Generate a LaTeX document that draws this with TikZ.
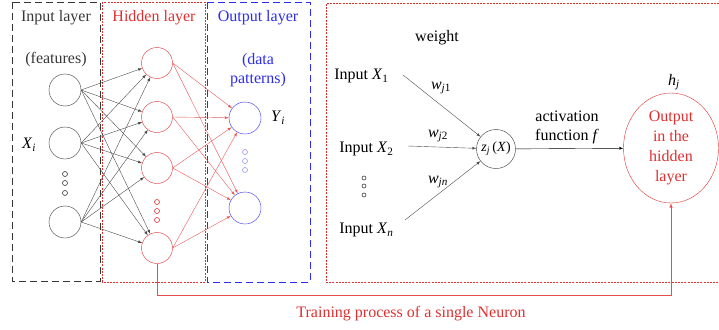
\documentclass[tikz,border=0pt]{standalone}
\usepackage{fontspec}
\setmainfont{Liberation Serif}
\usetikzlibrary{shapes.geometric}

\definecolor{netred}{RGB}{222,48,48}
\definecolor{netblue}{RGB}{45,45,235}
\definecolor{netgray}{RGB}{55,55,55}
\newcommand{\xsub}[2]{\textit{#1}\textsubscript{#2}}

\begin{document}
\begin{tikzpicture}[
  x = 1pt, y = -1pt,
  font = \fontsize{16}{19}\selectfont,
  in node/.style = {draw = netgray, circle, minimum size = 32pt, inner sep = 0pt},
  hid node/.style = {draw = netred, circle, minimum size = 31pt, inner sep = 0pt},
  out node/.style = {draw = netblue, circle, minimum size = 32pt, inner sep = 0pt},
  small dot/.style = {draw, circle, minimum size = 5pt, inner sep = 0pt, line width = 0.6pt},
  in edge/.style = {draw = black!70, line width = 0.4pt, -latex},
  hid edge/.style = {draw = netred!80, line width = 0.4pt, -latex},
  ]
  \useasboundingbox (0,0) rectangle (719,329);

  % layer boxes
  \draw[netgray, line width = 0.8pt, dash pattern = on 7pt off 4pt] (12,2) rectangle (100,281);
  \draw[netred, line width = 0.8pt, dash pattern = on 2pt off 1.2pt] (102,2) rectangle (205,282);
  \draw[netblue, line width = 0.8pt, dash pattern = on 7pt off 4pt] (207,2) rectangle (310,282);
  \draw[netred, line width = 0.8pt, dash pattern = on 2pt off 1.2pt]
    (719,3) -- (326,3) -- (326,282) -- (719,282);

  \node[netgray] (inlabel) at (56,18) {Input layer};
  \node[netred] (hidlabel) at (154,18) {Hidden layer};
  \node[netblue] (outlabel) at (258,18) {Output layer};
  \node[netgray] (features) at (56,60) {(features)};
  \node[netblue, align = center] (patterns) at (258,70) {(data\\patterns)};

  % input layer
  \node[in node] (in1) at (65,90) {};
  \node[in node] (in2) at (65,143) {};
  \node[in node] (in3) at (65,222) {};
  \node (xi) at (29,145) {\xsub{X}{\textit{i}}};
  \node[small dot, netgray] (indot1) at (65,174) {};
  \node[small dot, netgray] (indot2) at (65,183) {};
  \node[small dot, netgray] (indot3) at (65,193) {};

  % hidden layer
  \node[hid node] (hid1) at (157,63) {};
  \node[hid node] (hid2) at (157,117) {};
  \node[hid node] (hid3) at (157,168) {};
  \node[hid node] (hid4) at (157,248) {};
  \node[small dot, netred] (hiddot1) at (157,202) {};
  \node[small dot, netred] (hiddot2) at (157,211) {};
  \node[small dot, netred] (hiddot3) at (157,220) {};

  % output layer
  \node[out node] (out1) at (245,118) {};
  \node[out node] (out2) at (245,208) {};
  \node (yi) at (278,118) {\xsub{Y}{\textit{i}}};
  \node[small dot, netblue!50] (outdot1) at (245,152) {};
  \node[small dot, netblue!50] (outdot2) at (245,161) {};
  \node[small dot, netblue!50] (outdot3) at (245,170) {};

  \foreach \i in {1,2,3}
    \foreach \j in {1,...,4}
      \draw[in edge] (in\i.east) -- (hid\j);
  \foreach \j in {1,...,4}
    \foreach \k in {1,2}
      \draw[hid edge] (hid\j.east) -- (out\k);

  % single neuron
  \node (weight) at (437,38) {weight};
  \node[anchor = east] (x1) at (392,76) {Input \xsub{X}{1}};
  \node[anchor = east] (x2) at (397,149) {Input \xsub{X}{2}};
  \node[anchor = east] (xn) at (397,230) {Input \xsub{X}{\textit{n}}};
  \node[small dot, minimum size = 4pt, netgray] (xdot1) at (364,178) {};
  \node[small dot, minimum size = 4pt, netgray] (xdot2) at (364,186) {};
  \node[small dot, minimum size = 4pt, netgray] (xdot3) at (364,195) {};
  \node[draw = netgray, circle, minimum size = 39pt, inner sep = 0pt] (zj) at (496,149)
    {\fontsize{14}{16}\selectfont\xsub{z}{\textit{j}}\,(\textit{X})};
  \coordinate (x1end) at (403,75);
  \coordinate (x2end) at (408,146);
  \coordinate (xnend) at (405,220);
  \draw[in edge] (x1end) -- (zj);
  \draw[in edge] (x2end) -- (zj);
  \draw[in edge] (xnend) -- (zj);
  \node (wj1) at (441,88) {\xsub{w}{\textit{j}1}};
  \node (wj2) at (438,136) {\xsub{w}{\textit{j}2}};
  \node (wjn) at (438,182) {\xsub{w}{\textit{jn}}};

  \node[draw = netred, ellipse, minimum width = 95pt, minimum height = 110pt,
        inner sep = 0pt, netred, align = center, font = \fontsize{16}{20}\selectfont]
    (hj) at (671,148) {Output\\in the\\hidden\\layer};
  \node (hjlabel) at (674,82) {\xsub{h}{\textit{j}}};
  \draw[black, line width = 0.4pt, -latex] (zj) -- (hj);
  \node[align = center] (activation) at (567,127) {activation\\function \textit{f}};

  % training path
  \coordinate (trainleft) at (157,295);
  \coordinate (trainright) at (671,295);
  \draw[netred!85, line width = 0.5pt, -latex] (hid4) -- (trainleft) -- (trainright) -- (hj);
  \node[netred] (training) at (411,314) {Training process of a single Neuron};
\end{tikzpicture}
\end{document}
